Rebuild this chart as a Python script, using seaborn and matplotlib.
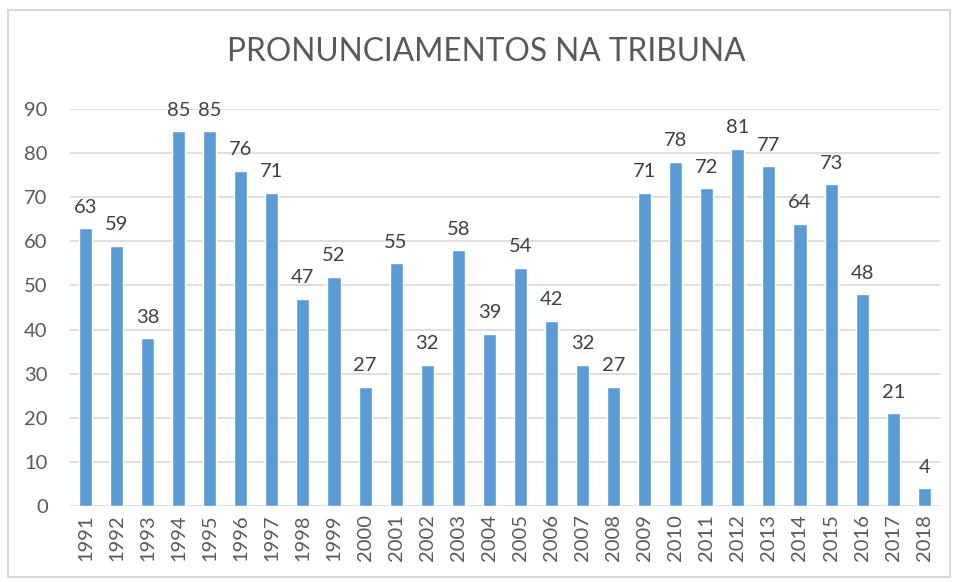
import seaborn as sns
import matplotlib.pyplot as plt
import pandas as pd
from matplotlib.patches import Rectangle

# data
anos = [str(a) for a in range(1991, 2019)]
pronunciamentos = [63, 59, 38, 85, 85, 76, 71, 47, 52, 27, 55, 32, 58, 39,
                   54, 42, 32, 27, 71, 78, 72, 81, 77, 64, 73, 48, 21, 4]
yticks = list(range(0, 100, 10))

df = pd.DataFrame({"ano": anos, "valor": pronunciamentos})

sns.set_theme(style="white")
plt.rcParams["font.family"] = ["Lato", "DejaVu Sans"]

fig = plt.figure(figsize=(9.58, 5.82), dpi=100)
ax = fig.add_axes([0.073, 0.1306, 0.908, 0.682])

sns.barplot(data=df, x="ano", y="valor", color="#5B9BD5", saturation=1,
            width=0.42, ax=ax, zorder=3)

ax.set_ylim(0, 90)
ax.set_xlim(-0.5, len(anos) - 0.5)
ax.set_yticks(yticks)
ax.yaxis.grid(True, color="#D9D9D9", linewidth=1.2, zorder=0)
ax.set_axisbelow(True)
for s in ax.spines.values():
    s.set_visible(False)
ax.set_xlabel("")
ax.set_ylabel("")
ax.tick_params(axis="both", length=0, labelsize=14.5, labelcolor="#595959")
ax.tick_params(axis="y", pad=16)
ax.tick_params(axis="x", pad=6)
plt.setp(ax.get_xticklabels(), rotation=90)

for i, v in enumerate(pronunciamentos):
    ax.annotate(str(v), (i, v), xytext=(0, 9), textcoords="offset points",
                ha="center", va="bottom", fontsize=14.5, color="#404040",
                annotation_clip=False)

fig.text(0.508, 0.91, "PRONUNCIAMENTOS NA TRIBUNA", ha="center", va="center",
         fontsize=22.8, color="#595959")

fig.patches.append(Rectangle((8 / 958, 1 - 577 / 582), 942 / 958, 567 / 582,
                             transform=fig.transFigure, fill=False,
                             edgecolor="#D9D9D9", linewidth=1.5))

fig.savefig("out.png", dpi=100)
